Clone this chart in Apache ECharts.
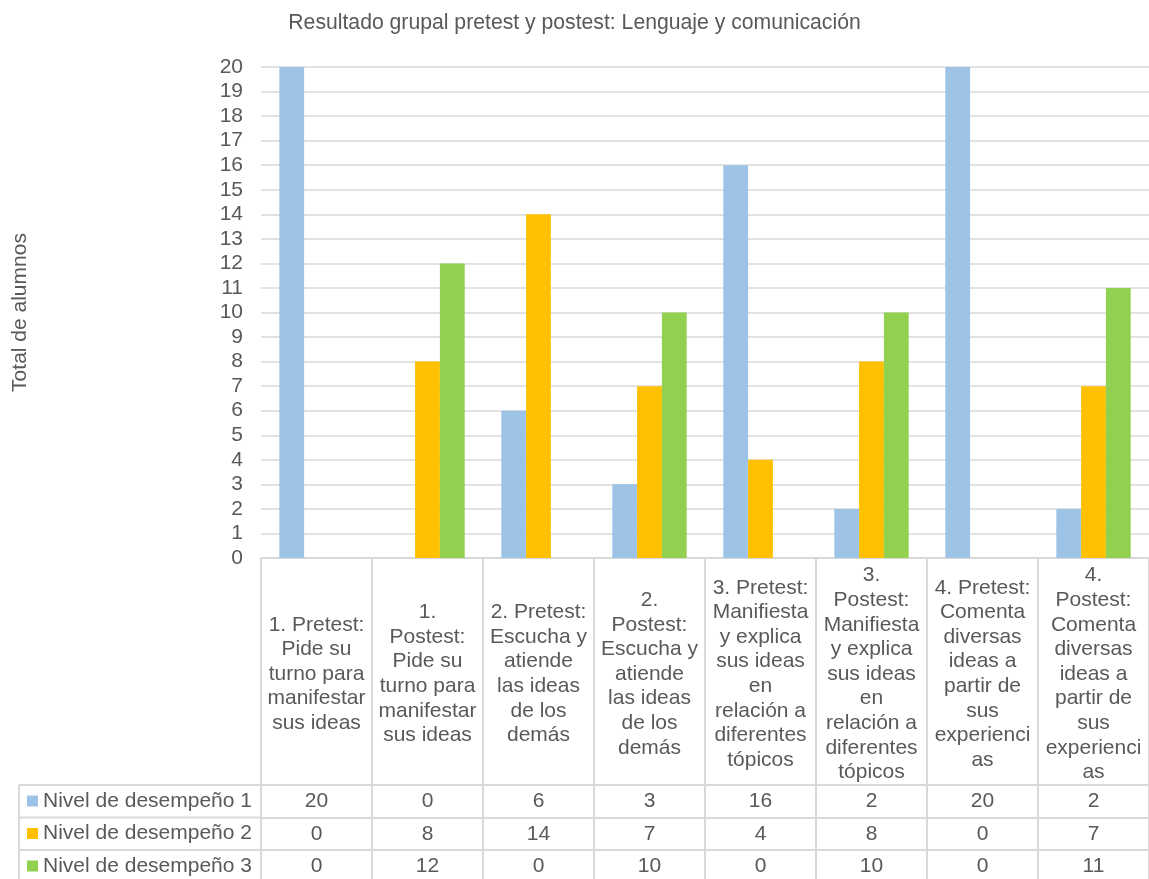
<!DOCTYPE html>
<html>
<head>
<meta charset="utf-8">
<script src="https://cdn.jsdelivr.net/npm/echarts@6/dist/echarts.min.js"></script>
<style>
  html, body { margin: 0; padding: 0; background: #ffffff; }
  #chart { width: 1149px; height: 879px; }
</style>
</head>
<body>
<div id="chart"></div>
<script>
// Categories (group + item), with the line breaks used in the table header cells
const categories = [
  '1. Pretest:\nPide su\nturno para\nmanifestar\nsus ideas',
  '1.\nPostest:\nPide su\nturno para\nmanifestar\nsus ideas',
  '2. Pretest:\nEscucha y\natiende\nlas ideas\nde los\ndemás',
  '2.\nPostest:\nEscucha y\natiende\nlas ideas\nde los\ndemás',
  '3. Pretest:\nManifiesta\ny explica\nsus ideas\nen\nrelación a\ndiferentes\ntópicos',
  '3.\nPostest:\nManifiesta\ny explica\nsus ideas\nen\nrelación a\ndiferentes\ntópicos',
  '4. Pretest:\nComenta\ndiversas\nideas a\npartir de\nsus\nexperienci\nas',
  '4.\nPostest:\nComenta\ndiversas\nideas a\npartir de\nsus\nexperienci\nas'
];
const seriesNames = ['Nivel de desempeño 1', 'Nivel de desempeño 2', 'Nivel de desempeño 3'];
const nivel1 = [20, 0, 6, 3, 16, 2, 20, 2];
const nivel2 = [0, 8, 14, 7, 4, 8, 0, 7];
const nivel3 = [0, 12, 0, 10, 0, 10, 0, 11];
const colors = ['#9dc3e6', '#ffc000', '#92d050'];

const FONT = '"Liberation Sans", Arial, sans-serif';
const TEXT = '#595959';
const LINE = '#d9d9d9';

// layout of plot area and data table
const gridLeft = 261, gridTop = 67, gridBottomY = 558, W = 1149, H = 879;
const headerH = 227;          // height of the category header cells
const rowH = 32.5;            // height of each value row
const tableLeft = 19;

const allValues = [nivel1, nivel2, nivel3];

// value rows of the data table, one category axis per series
const tableAxes = allValues.map((vals, i) => ({
  type: 'category',
  gridIndex: 0,
  position: 'bottom',
  offset: headerH + i * rowH,
  data: vals.map(String),
  axisLine: { show: true, lineStyle: { color: LINE, width: 2 } },
  axisTick: { show: true, length: rowH, lineStyle: { color: LINE, width: 2 } },
  axisLabel: {
    interval: 0, margin: rowH / 2, verticalAlign: 'middle',
    fontFamily: FONT, fontSize: 21, color: TEXT
  },
  splitLine: { show: false }
}));

// left-hand border lines of the table (legend cells)
const borderLines = [];
for (let i = 0; i < 3; i++) {
  const y = gridBottomY + headerH + i * rowH;
  borderLines.push({ type: 'line', shape: { x1: tableLeft, y1: y, x2: gridLeft, y2: y },
    style: { stroke: LINE, lineWidth: 2 } });
}
borderLines.push({ type: 'line',
  shape: { x1: tableLeft, y1: gridBottomY + headerH, x2: tableLeft, y2: H },
  style: { stroke: LINE, lineWidth: 2 } });

const chart = echarts.init(document.getElementById('chart'));
chart.setOption({
  animation: false,
  color: colors,
  title: {
    text: 'Resultado grupal pretest y postest: Lenguaje y comunicación',
    left: 'center', top: 13, padding: 0,
    textStyle: { fontFamily: FONT, fontSize: 21.2, fontWeight: 'normal', color: TEXT }
  },
  legend: {
    orient: 'vertical', left: 27, top: 790.5, padding: 0,
    itemGap: rowH - 21, itemWidth: 11, itemHeight: 11, icon: 'rect',
    selectedMode: false,
    data: seriesNames,
    textStyle: { fontFamily: FONT, fontSize: 21, lineHeight: 21, color: TEXT }
  },
  grid: {
    left: gridLeft, top: gridTop, right: 0, bottom: H - gridBottomY,
    containLabel: false, outerBoundsMode: 'none'
  },
  xAxis: [{
    type: 'category',
    data: categories,
    axisLine: { show: true, lineStyle: { color: LINE, width: 2 } },
    axisTick: { show: true, length: headerH, lineStyle: { color: LINE, width: 2 } },
    axisLabel: {
      interval: 0, margin: headerH / 2 + 2.5, verticalAlign: 'middle', align: 'center',
      fontFamily: FONT, fontSize: 21, lineHeight: 24.6, color: TEXT
    },
    splitLine: { show: false }
  }].concat(tableAxes),
  yAxis: {
    type: 'value', min: 0, max: 20, interval: 1,
    name: 'Total de alumnos', nameLocation: 'middle', nameGap: 230, nameRotate: 90,
    nameTextStyle: { fontFamily: FONT, fontSize: 21, color: TEXT },
    axisLine: { show: false }, axisTick: { show: false },
    axisLabel: { margin: 18, fontFamily: FONT, fontSize: 21, color: TEXT },
    splitLine: { lineStyle: { color: LINE, width: 1.5 } }
  },
  graphic: borderLines,
  series: allValues.map((vals, i) => ({
    name: seriesNames[i],
    type: 'bar',
    xAxisIndex: 0,
    data: vals,
    barGap: '0%',
    barCategoryGap: '33%',
    itemStyle: { color: colors[i] }
  }))
});
</script>
</body>
</html>
